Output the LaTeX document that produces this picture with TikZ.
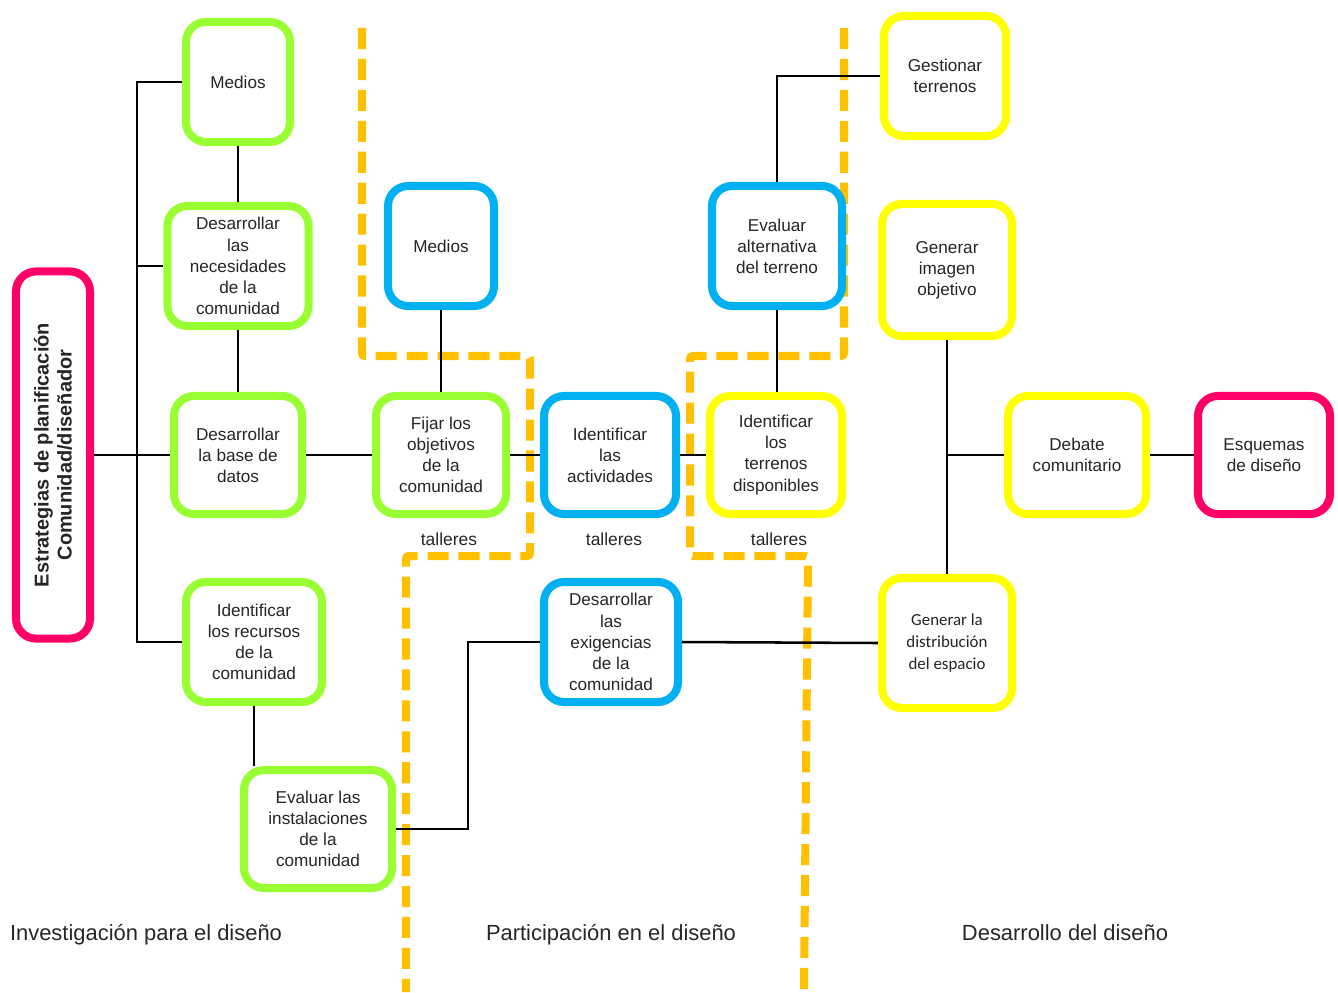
\documentclass[tikz,border=0pt]{standalone}
\usepackage{fontspec}
\setmainfont{Liberation Sans}
\newfontfamily\calibri{Carlito}

\definecolor{cVerde}{RGB}{153,255,51}
\definecolor{cAzul}{RGB}{0,176,240}
\definecolor{cAmarillo}{RGB}{255,255,0}
\definecolor{cRosa}{RGB}{255,0,102}
\definecolor{cNaranja}{RGB}{255,192,0}

\tikzset{
    caja/.style = {draw, fill = white,
        line width = 5.7pt,
        rounded corners = 0.5cm,
        align = center,
        inner sep = 2pt,
        text = black!85,
        font = \fontsize{12.2}{15}\selectfont},
    verde/.style = {caja, draw = cVerde},
    azul/.style = {caja, draw = cAzul},
    amarillo/.style = {caja, draw = cAmarillo},
    rosa/.style = {caja, draw = cRosa},
    conexion/.style = {line width = 1.8pt, black},
    zona/.style = {line width = 5.7pt, cNaranja,
        dash pattern = on 15pt off 7pt, rounded corners = 2pt},
    etiqueta/.style = {text = black!85, font = \fontsize{12.4}{15}\selectfont},
    seccion/.style = {anchor = base, text = black!85,
        font = \fontsize{15.6}{18}\selectfont}
}

\begin{document}
\begin{tikzpicture}[x = 0.025cm, y = -0.025cm]
    \useasboundingbox (0,0) rectangle (1338,992);

    % zonas de talleres
    \draw [zona] (362,28) -- (362,356) -- (530,356) -- (530,556)
        -- (406,556) -- (406,992);
    \draw [zona] (844,28) -- (844,356) -- (690,356) -- (690,556)
        -- (808,556) -- (804,992);

    % estrategias
    \draw (53,455) node(est) [rosa, rotate = 90,
        minimum width = 9.175cm,
        minimum height = 1.85cm,
        font = \fontsize{14.2}{16.4}\selectfont\bfseries
    ]
    {Estrategias de planificación \\ Comunidad/diseñador};

    % investigacion
    \draw (238,82) node(medios) [verde,
        minimum width = 2.6cm, minimum height = 3cm] {Medios};
    \draw (238,266) node(necesidades) [verde,
        minimum width = 3.525cm, minimum height = 3cm]
    {Desarrollar \\ las \\ necesidades \\ de la \\ comunidad};
    \draw (238,455) node(base) [verde,
        minimum width = 3.2cm, minimum height = 2.95cm]
    {Desarrollar \\ la base de \\ datos};
    \draw (254,642) node(recursos) [verde,
        minimum width = 3.4cm, minimum height = 3cm]
    {Identificar \\ los recursos \\ de la \\ comunidad};
    \draw (318,829) node(instalaciones) [verde,
        minimum width = 3.7cm, minimum height = 2.95cm]
    {Evaluar las \\ instalaciones \\ de la \\ comunidad};

    % participacion
    \draw (441,246) node(mediosB) [azul,
        minimum width = 2.65cm, minimum height = 3cm] {Medios};
    \draw (441,455) node(objetivos) [verde,
        minimum width = 3.25cm, minimum height = 2.95cm]
    {Fijar los \\ objetivos \\ de la \\ comunidad};
    \draw (610,455) node(actividades) [azul,
        minimum width = 3.3cm, minimum height = 2.95cm]
    {Identificar \\ las \\ actividades};
    \draw (611,642) node(exigencias) [azul,
        minimum width = 3.35cm, minimum height = 3cm]
    {Desarrollar \\ las \\ exigencias \\ de la \\ comunidad};
    \draw (777,246) node(alternativa) [azul,
        minimum width = 3.25cm, minimum height = 3cm]
    {Evaluar \\ alternativa \\ del terreno};
    \draw (776,455) node(terrenos) [amarillo,
        minimum width = 3.3cm, minimum height = 2.95cm]
    {Identificar \\ los \\ terrenos \\ disponibles};

    % desarrollo
    \draw (945,76) node(gestionar) [amarillo,
        minimum width = 3.05cm, minimum height = 3cm]
    {Gestionar \\ terrenos};
    \draw (947,270) node(imagen) [amarillo,
        minimum width = 3.25cm, minimum height = 3.3cm]
    {Generar \\ imagen \\ objetivo};
    \draw (947,643) node(distribucion) [amarillo,
        minimum width = 3.25cm, minimum height = 3.25cm,
        font = \calibri\fontsize{12}{15.3}\selectfont]
    {Generar la \\ distribución \\ del espacio};
    \draw (1077,455) node(debate) [amarillo,
        minimum width = 3.45cm, minimum height = 2.95cm]
    {Debate \\ comunitario};
    \draw (1264,455) node(esquemas) [rosa,
        minimum width = 3.3cm, minimum height = 2.95cm]
    {Esquemas \\ de diseño};

    % talleres
    \draw (449,539) node(tallerA) [etiqueta] {talleres};
    \draw (614,539) node(tallerB) [etiqueta] {talleres};
    \draw (779,539) node(tallerC) [etiqueta] {talleres};

    % secciones
    \draw (146,940) node(investigacion) [seccion] {Investigación para el diseño};
    \draw (611,940) node(participacion) [seccion] {Participación en el diseño};
    \draw (1065,940) node(desarrollo) [seccion] {Desarrollo del diseño};

    % conexiones
    \coordinate (tronco) at (137,455);
    \draw [conexion] (est.south) -- (tronco);
    \draw [conexion] (medios.west) -| (tronco) |- (recursos.west);
    \draw [conexion] (necesidades.west) -| (tronco);
    \draw [conexion] (tronco) -- (base.west);
    \draw [conexion] (medios) -- (necesidades);
    \draw [conexion] (necesidades) -- (base);
    \draw [conexion] (base) -- (objetivos);
    \draw [conexion] (mediosB) -- (objetivos);
    \draw [conexion] (objetivos) -- (actividades);
    \draw [conexion] (actividades) -- (terrenos);
    \draw [conexion] (alternativa.south) -- (alternativa.south |- terrenos.north);
    \draw [conexion] (alternativa.north) |- (gestionar.west);
    \draw [conexion] (recursos.south) -- (recursos.south |- instalaciones.north);
    \draw [conexion] (instalaciones.east) -- ++(72,0) |- (exigencias.west);
    \draw [conexion] (exigencias.east) -- (distribucion.west);
    \draw [conexion] (imagen) -- (distribucion);
    \draw [conexion] (debate.west) -- (debate.west -| imagen.south);
    \draw [conexion] (debate) -- (esquemas);
\end{tikzpicture}
\end{document}
